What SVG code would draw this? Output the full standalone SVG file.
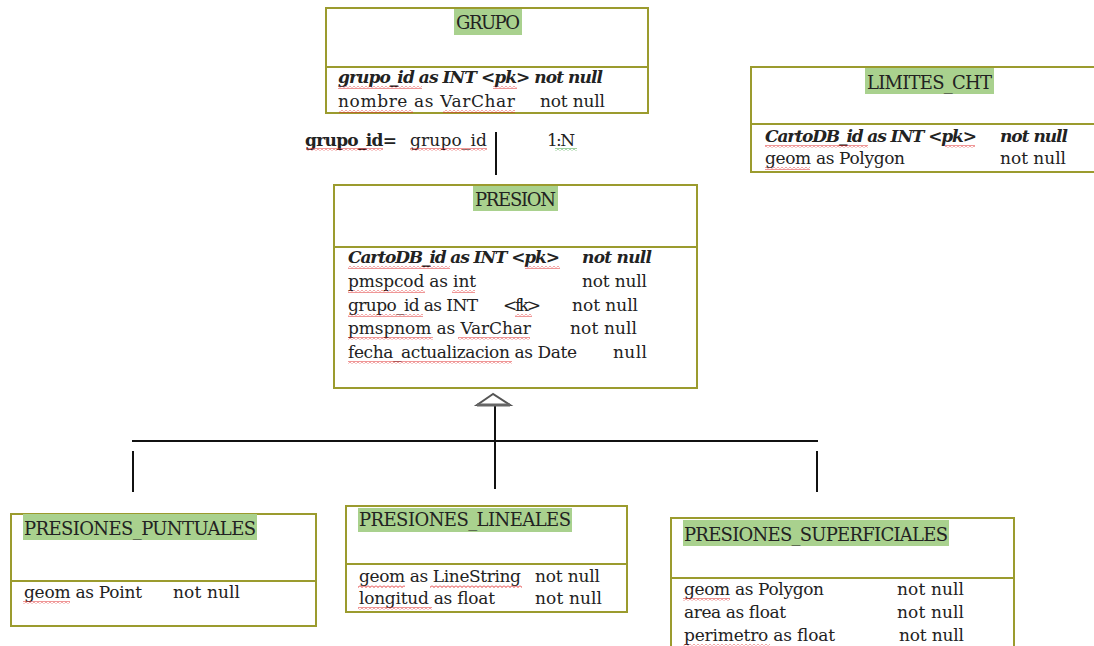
<svg xmlns="http://www.w3.org/2000/svg" width="1094" height="646" viewBox="0 0 1094 646">
<defs>
<pattern id="sq" width="4" height="3" patternUnits="userSpaceOnUse"><path d="M0,0.5 L2,2.5 L4,0.5" fill="none" stroke="#e03030" stroke-width="1"/></pattern>
<pattern id="sqg" width="4" height="3" patternUnits="userSpaceOnUse"><path d="M0,0.5 L2,2.5 L4,0.5" fill="none" stroke="#40a040" stroke-width="1"/></pattern>
</defs>
<style>
.box{fill:#fff;stroke:#9b9b2e;stroke-width:2}
.div{stroke:#9b9b2e;stroke-width:2}
.hl{fill:#a9d18e}
text{font-family:"DejaVu Serif","Liberation Serif",serif;font-size:17px;fill:#222}
.t{font-size:18px}
.bi{font-weight:bold;font-style:italic}
.b{font-weight:bold}
.ln{stroke:#111;stroke-width:2;fill:none}
.sq{fill:url(#sq)}
.sqg{fill:url(#sqg)}
</style>
<rect width="1094" height="646" fill="#fff"/>

<g id="connectors">
<line class="ln" x1="496" y1="132" x2="496" y2="175"/>
<line class="ln" x1="495" y1="405" x2="495" y2="489"/>
<line class="ln" x1="132" y1="441" x2="818" y2="441"/>
<line class="ln" x1="133" y1="451" x2="133" y2="492"/>
<line class="ln" x1="817" y1="451" x2="817" y2="492"/>
<polygon points="493,394 477,405 510,405" fill="#fff" stroke="#555" stroke-width="2"/>
<line x1="477" y1="405" x2="510" y2="405" stroke="#666" stroke-width="3"/>
</g>

<g id="rel-label">
<text class="b" x="305" y="146" textLength="92">grupo_id=</text>
<text x="410" y="146" textLength="77">grupo_id</text>
<text x="547" y="146" textLength="28">1:N</text>
<rect class="sq" x="306" y="148" width="77" height="3"/>
<rect class="sq" x="410" y="148" width="77" height="3"/>
<rect class="sqg" x="555" y="148" width="22" height="3"/>
</g>

<g id="grupo">
<rect class="box" x="326" y="8" width="322" height="105"/>
<line class="div" x1="326" y1="67" x2="648" y2="67"/>
<rect class="hl" x="454" y="9" width="68" height="26"/>
<text class="t" x="456" y="29" textLength="64">GRUPO</text>
<text class="bi" x="338" y="83" textLength="265">grupo_id as INT &lt;pk&gt; not null</text>
<text x="338" y="107" textLength="177">nombre  as  VarChar</text>
<text x="540" y="107" textLength="65">not null</text>
<rect class="sq" x="338" y="86" width="84" height="3"/>
<rect class="sq" x="493" y="86" width="24" height="3"/>
<rect class="sq" x="339" y="110" width="74" height="3"/>
<rect class="sq" x="443" y="110" width="72" height="3"/>
</g>

<g id="limites_cht">
<rect class="box" x="751" y="67" width="360" height="105"/>
<line class="div" x1="751" y1="124" x2="1094" y2="124"/>
<rect class="hl" x="865" y="68" width="129" height="26"/>
<text class="t" x="867" y="89" textLength="125">LIMITES_CHT</text>
<text class="bi" x="765" y="142" textLength="212">CartoDB_id as INT &lt;pk&gt;</text>
<text class="bi" x="1000" y="142" textLength="68">not null</text>
<text x="765" y="164" textLength="140">geom as Polygon</text>
<text x="1000" y="164" textLength="66">not null</text>
<rect class="sq" x="765" y="145" width="103" height="3"/>
<rect class="sq" x="945" y="145" width="30" height="3"/>
<rect class="sq" x="765" y="167" width="45" height="3"/>
</g>

<g id="presion">
<rect class="box" x="334" y="185" width="363" height="203"/>
<line class="div" x1="334" y1="247" x2="697" y2="247"/>
<rect class="hl" x="473" y="186" width="85" height="25"/>
<text class="t" x="475" y="206" textLength="81">PRESION</text>
<text class="bi" x="348" y="263" textLength="212">CartoDB_id as INT &lt;pk&gt;</text>
<text class="bi" x="582" y="263" textLength="70">not null</text>
<text x="348" y="287" textLength="128">pmspcod as int</text>
<text x="582" y="287" textLength="65">not null</text>
<text x="348" y="311" textLength="130">grupo_id as INT</text>
<text x="503" y="311" textLength="38">&lt;fk&gt;</text>
<text x="572" y="311" textLength="66">not null</text>
<text x="348" y="334" textLength="183">pmspnom as VarChar</text>
<text x="570" y="334" textLength="67">not null</text>
<text x="348" y="358" textLength="229">fecha_actualizacion as Date</text>
<text x="613" y="358" textLength="34">null</text>
<rect class="sq" x="348" y="266" width="102" height="3"/>
<rect class="sq" x="525" y="266" width="35" height="3"/>
<rect class="sq" x="348" y="290" width="77" height="3"/>
<rect class="sq" x="452" y="290" width="23" height="3"/>
<rect class="sq" x="348" y="314" width="75" height="3"/>
<rect class="sq" x="515" y="314" width="17" height="3"/>
<rect class="sq" x="348" y="337" width="85" height="3"/>
<rect class="sq" x="458" y="337" width="72" height="3"/>
<rect class="sq" x="348" y="361" width="164" height="3"/>
</g>

<g id="presiones_puntuales">
<rect class="box" x="11" y="514" width="305" height="112"/>
<line class="div" x1="11" y1="581" x2="316" y2="581"/>
<rect class="hl" x="23" y="514" width="234" height="26"/>
<text class="t" x="24" y="535" textLength="232">PRESIONES_PUNTUALES</text>
<text x="24" y="598" textLength="118">geom as Point</text>
<text x="173" y="598" textLength="67">not null</text>
<rect class="sq" x="23" y="601" width="47" height="3"/>
</g>

<g id="presiones_lineales">
<rect class="box" x="346" y="506" width="281" height="106"/>
<line class="div" x1="346" y1="564" x2="627" y2="564"/>
<rect class="hl" x="358" y="508" width="214" height="24"/>
<text class="t" x="359" y="526" textLength="212">PRESIONES_LINEALES</text>
<text x="359" y="582" textLength="162">geom as LineString</text>
<text x="535" y="582" textLength="65">not null</text>
<text x="359" y="604" textLength="136">longitud as float</text>
<text x="535" y="604" textLength="67">not null</text>
<rect class="sq" x="358" y="585" width="47" height="3"/>
<rect class="sq" x="430" y="585" width="92" height="3"/>
<rect class="sq" x="358" y="607" width="74" height="3"/>
</g>

<g id="presiones_superficiales">
<rect class="box" x="671" y="518" width="343" height="140"/>
<line class="div" x1="671" y1="578" x2="1014" y2="578"/>
<rect class="hl" x="683" y="520" width="266" height="26"/>
<text class="t" x="684" y="541" textLength="264">PRESIONES_SUPERFICIALES</text>
<text x="684" y="595" textLength="140">geom as Polygon</text>
<text x="897" y="595" textLength="67">not null</text>
<text x="684" y="618" textLength="102">area as float</text>
<text x="897" y="618" textLength="67">not null</text>
<text x="684" y="641" textLength="151">perimetro as float</text>
<text x="899" y="641" textLength="65">not null</text>
<rect class="sq" x="683" y="598" width="47" height="3"/>
<rect class="sq" x="683" y="644" width="87" height="3"/>
</g>
</svg>
